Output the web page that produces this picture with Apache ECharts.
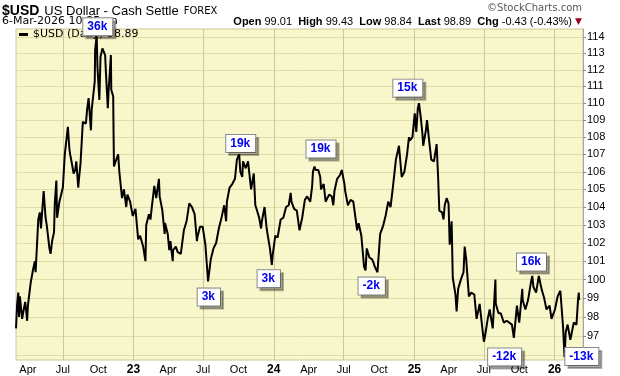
<!DOCTYPE html>
<html>
<head>
<meta charset="utf-8">
<script src="https://cdn.jsdelivr.net/npm/echarts@6/dist/echarts.min.js"></script>
<style>
  html, body { margin: 0; padding: 0; background: #fff; }
  #main { width: 620px; height: 376px; }
</style>
</head>
<body>
<div id="main"></div>
<script type="text/javascript">
    // daily closes (extra points at the swing highs/lows)
    var dates = [
        '2022-03-01','2022-03-04','2022-03-07','2022-03-09','2022-03-11','2022-03-17','2022-03-22','2022-03-25','2022-03-30',
        '2022-04-01','2022-04-08','2022-04-14','2022-04-19','2022-04-21','2022-04-28','2022-05-02','2022-05-05','2022-05-12',
        '2022-05-17','2022-05-20','2022-05-27','2022-05-30','2022-06-03','2022-06-08','2022-06-10','2022-06-14','2022-06-16',
        '2022-06-22','2022-06-24','2022-07-01','2022-07-06','2022-07-08','2022-07-14','2022-07-18','2022-07-20','2022-07-25',
        '2022-07-29','2022-08-02','2022-08-05','2022-08-10','2022-08-12','2022-08-16','2022-08-22','2022-08-26','2022-08-30',
        '2022-09-02','2022-09-06','2022-09-12','2022-09-14','2022-09-16','2022-09-22','2022-09-23','2022-09-27','2022-09-29',
        '2022-10-04','2022-10-07','2022-10-12','2022-10-14','2022-10-19','2022-10-21','2022-10-26','2022-10-28','2022-11-03',
        '2022-11-04','2022-11-09','2022-11-10','2022-11-11','2022-11-15','2022-11-17','2022-11-22','2022-11-25','2022-11-30',
        '2022-12-02','2022-12-07','2022-12-13','2022-12-16','2022-12-23','2022-12-30',
        '2023-01-06','2023-01-13','2023-01-18','2023-01-26','2023-02-01','2023-02-03','2023-02-10','2023-02-14','2023-02-17',
        '2023-02-24','2023-03-01','2023-03-08','2023-03-10','2023-03-15','2023-03-17','2023-03-23','2023-03-24','2023-03-31',
        '2023-04-04','2023-04-07','2023-04-13','2023-04-14','2023-04-21','2023-04-26','2023-05-04','2023-05-12','2023-05-19',
        '2023-05-26','2023-05-31','2023-06-02','2023-06-09','2023-06-15','2023-06-16','2023-06-23','2023-06-30','2023-07-07',
        '2023-07-14','2023-07-18','2023-07-21','2023-07-28','2023-08-04','2023-08-11','2023-08-18','2023-08-25','2023-08-30',
        '2023-09-01','2023-09-08','2023-09-15','2023-09-22','2023-09-27','2023-10-03','2023-10-06','2023-10-11','2023-10-13',
        '2023-10-20','2023-10-26','2023-11-03','2023-11-10','2023-11-14','2023-11-17','2023-11-24','2023-11-29','2023-12-01',
        '2023-12-08','2023-12-13','2023-12-15','2023-12-22','2023-12-27','2023-12-29',
        '2024-01-05','2024-01-11','2024-01-19','2024-01-26','2024-02-02','2024-02-09','2024-02-14','2024-02-16','2024-02-23',
        '2024-03-01','2024-03-08','2024-03-15','2024-03-22','2024-03-28','2024-04-05','2024-04-10','2024-04-12','2024-04-16',
        '2024-04-19','2024-04-26','2024-05-01','2024-05-03','2024-05-10','2024-05-15','2024-05-17','2024-05-24','2024-05-31',
        '2024-06-04','2024-06-07','2024-06-14','2024-06-21','2024-06-26','2024-07-03','2024-07-05','2024-07-12','2024-07-16',
        '2024-07-19','2024-07-26','2024-08-02','2024-08-05','2024-08-09','2024-08-16','2024-08-23','2024-08-27','2024-08-30',
        '2024-09-06','2024-09-13','2024-09-17','2024-09-20','2024-09-27','2024-10-04','2024-10-11','2024-10-18','2024-10-25',
        '2024-10-31','2024-11-06','2024-11-08','2024-11-14','2024-11-15','2024-11-22','2024-11-29','2024-12-06','2024-12-13',
        '2024-12-18','2024-12-20','2024-12-27',
        '2025-01-02','2025-01-06','2025-01-10','2025-01-13','2025-01-17','2025-01-22','2025-01-24','2025-01-31','2025-02-03',
        '2025-02-07','2025-02-14','2025-02-21','2025-02-28','2025-03-04','2025-03-07','2025-03-14','2025-03-18','2025-03-21',
        '2025-03-26','2025-03-31','2025-04-03','2025-04-08','2025-04-11','2025-04-18','2025-04-21','2025-04-25','2025-05-02',
        '2025-05-09','2025-05-12','2025-05-16','2025-05-23','2025-05-29','2025-06-03','2025-06-06','2025-06-12','2025-06-20',
        '2025-06-27','2025-07-01','2025-07-04','2025-07-11','2025-07-16','2025-07-18','2025-07-24','2025-07-31','2025-08-01',
        '2025-08-08','2025-08-14','2025-08-19','2025-08-22','2025-08-29','2025-09-05','2025-09-12','2025-09-17','2025-09-25',
        '2025-10-01','2025-10-09','2025-10-10','2025-10-17','2025-10-24','2025-10-31','2025-11-04','2025-11-07','2025-11-12',
        '2025-11-14','2025-11-21','2025-11-28','2025-12-05','2025-12-11','2025-12-19','2025-12-24',
        '2026-01-02','2026-01-09','2026-01-16','2026-01-23','2026-01-27','2026-01-30','2026-02-04','2026-02-06','2026-02-11',
        '2026-02-13','2026-02-20','2026-02-27','2026-03-03','2026-03-05','2026-03-06'
    ];
    var closes = [
        97.4, 98.7, 99.3, 98.0, 99.1, 97.9, 98.5, 98.8, 97.8,
        98.6, 99.8, 100.5, 101.0, 100.4, 103.3, 103.7, 102.8, 104.9,
        103.4, 103.0, 101.7, 101.4, 102.1, 102.6, 104.2, 105.5, 103.4,
        104.3, 104.2, 105.1, 107.0, 106.9, 108.6, 107.3, 107.0, 106.4,
        105.9, 106.1, 106.6, 105.1, 105.6, 106.5, 108.9, 108.8, 108.8,
        109.6, 110.3, 108.4, 109.6, 109.7, 111.3, 113.2, 114.1, 112.2,
        110.2, 112.8, 113.3, 113.3, 112.9, 111.9, 109.7, 110.7, 112.9,
        110.8, 110.4, 108.2, 106.3, 106.4, 106.7, 107.0, 106.0, 105.9,
        104.5, 105.0, 104.0, 104.7, 104.3, 103.5,
        103.9, 102.2, 102.4, 101.8, 101.0, 103.0, 103.6, 103.3, 103.9,
        105.2, 104.5, 105.6, 104.6, 104.6, 103.8, 102.5, 103.1, 102.5,
        101.6, 102.1, 101.0, 101.6, 101.8, 101.5, 101.4, 102.7, 103.2,
        104.2, 104.3, 104.0, 103.6, 102.1, 102.3, 102.9, 102.9, 101.9,
        99.9, 99.9, 101.1, 101.7, 102.0, 102.8, 103.4, 104.1, 103.2,
        104.3, 105.1, 105.3, 105.6, 106.7, 107.0, 106.0, 105.7, 106.6,
        106.2, 106.6, 105.0, 105.9, 104.1, 103.9, 103.4, 102.8, 103.2,
        104.0, 102.9, 102.6, 101.7, 100.8, 101.3,
        102.4, 102.3, 103.3, 103.4, 104.0, 104.1, 104.8, 104.3, 103.9,
        103.8, 102.7, 103.4, 104.4, 104.6, 104.3, 105.2, 106.0, 106.3,
        106.1, 106.1, 105.7, 105.0, 105.3, 104.3, 104.4, 104.7, 104.6,
        104.1, 104.9, 105.6, 105.8, 106.1, 105.3, 104.9, 104.1, 104.2,
        104.4, 104.3, 103.2, 102.7, 103.1, 102.4, 100.7, 100.5, 101.7,
        101.2, 101.1, 100.9, 100.7, 100.4, 102.5, 102.9, 103.5, 104.3,
        104.0, 105.1, 105.0, 106.7, 106.7, 107.5, 105.7, 106.0, 107.0,
        108.0, 107.8, 108.0,
        109.4, 108.3, 109.7, 110.0, 109.3, 108.2, 107.5, 108.4, 109.0,
        108.1, 106.7, 106.6, 107.6, 105.6, 103.8, 103.7, 103.3, 104.1,
        104.5, 104.2, 101.9, 103.2, 100.1, 99.2, 98.3, 99.5, 100.0,
        100.4, 101.8, 101.1, 99.1, 99.3, 99.3, 99.2, 97.9, 98.7,
        97.4, 96.7, 97.0, 97.9, 98.4, 98.5, 97.4, 100.0, 98.7,
        98.2, 98.2, 98.3, 97.7, 97.8, 97.7, 97.6, 96.9, 98.6,
        97.7, 99.5, 98.9, 98.4, 98.9, 99.8, 100.2, 99.6, 99.5,
        99.3, 100.2, 99.5, 99.0, 98.4, 98.6, 97.9,
        98.4, 99.1, 99.4, 97.5, 95.9, 97.2, 97.6, 97.6, 96.8,
        97.0, 97.7, 97.6, 98.9, 99.3, 98.9
    ];

    // axis ticks
    var quarterDates = ['2022-04-01','2022-07-01','2022-10-01','2023-01-01','2023-04-01','2023-07-01','2023-10-01',
        '2024-01-01','2024-04-01','2024-07-01','2024-10-01','2025-01-01','2025-04-01','2025-07-01','2025-10-01','2026-01-01'];
    var halfYearDates = ['2022-07-01','2023-01-01','2023-07-01','2024-01-01','2024-07-01','2025-01-01','2025-07-01','2026-01-01'];
    var priceTicks = [96, 97, 98, 99, 100, 101, 102, 103, 104, 105, 106, 107, 108, 109, 110, 111, 112, 113, 114];
    var monthNames = ['Jan','Feb','Mar','Apr','May','Jun','Jul','Aug','Sep','Oct','Nov','Dec'];

    // annotation boxes (date, level, text)
    var noteDates = ['2022-09-30','2023-07-16','2023-10-07','2023-12-19','2024-05-03','2024-09-12','2024-12-15','2025-08-24','2025-11-02','2026-03-13'];
    var noteValues = [114.45, 99.06, 107.63, 100.05, 107.31, 99.65, 110.9, 95.9, 100.95, 95.93];
    var noteTexts = ['36k','3k','19k','3k','19k','-2k','15k','-12k','16k','-13k'];

    function toTime(s) {
        var p = s.split('-');
        return new Date(+p[0], +p[1] - 1, +p[2]).getTime();
    }

    var chart = echarts.init(document.getElementById('main'));
    var option = {
        animation: false,
        backgroundColor: '#fff',
        title: [
            {
                left: 2, top: 2, padding: 0,
                text: '{a|$USD} {b|US Dollar - Cash Settle} {c|FOREX}',
                textStyle: {
                    rich: {
                        a: { fontFamily: 'Liberation Sans', fontWeight: 'bold', fontSize: 14, color: '#000' },
                        b: { fontFamily: 'Liberation Sans', fontWeight: 'normal', fontSize: 13, color: '#000' },
                        c: { fontFamily: 'DejaVu Sans', fontWeight: 'normal', fontSize: 10, color: '#000' }
                    }
                }
            },
            {
                left: 2, top: 16, padding: 0,
                text: '6-Mar-2026 10:25am',
                textStyle: { fontFamily: 'DejaVu Sans', fontSize: 11, fontWeight: 'normal', color: '#000' }
            },
            {
                right: 38, top: 16, padding: 0,
                text: '{k|Open} 99.01  {k|High} 99.43  {k|Low} 98.84  {k|Last} 98.89  {k|Chg} -0.43 (-0.43%) {t|▼}',
                textStyle: {
                    fontFamily: 'Liberation Sans', fontSize: 11, fontWeight: 'normal', color: '#000',
                    rich: {
                        k: { fontFamily: 'Liberation Sans', fontWeight: 'bold', fontSize: 11, color: '#000' },
                        t: { fontFamily: 'DejaVu Sans', fontWeight: 'normal', fontSize: 9, color: '#990022' }
                    }
                }
            },
            {
                right: 38, top: 3, padding: 0,
                text: '©StockCharts.com',
                textStyle: { fontFamily: 'DejaVu Sans', fontSize: 10, fontWeight: 'normal', color: '#555' }
            }
        ],
        legend: {
            left: 19, top: 29, padding: 0,
            icon: 'rect', itemWidth: 9, itemHeight: 3, itemGap: 4,
            textStyle: { fontFamily: 'DejaVu Sans', fontSize: 11, color: '#000' },
            data: ['$USD (Daily) 98.89']
        },
        grid: {
            left: 16, right: 37, top: 29, bottom: 16,
            show: true, backgroundColor: '#f8f6cb', borderColor: '#c9c99a', borderWidth: 1
        },
        xAxis: {
            type: 'value',
            min: toTime('2022-03-01'), max: toTime('2026-03-16'),
            axisLine: { show: false },
            axisTick: { show: false },
            splitLine: { show: false },
            axisLabel: {
                customValues: quarterDates.map(toTime),
                margin: 4, fontSize: 11, color: '#000', fontFamily: 'Liberation Sans',
                formatter: function (val) {
                    var d = new Date(val);
                    var m = d.getMonth();
                    if (m === 0) {
                        return '{y|' + String(d.getFullYear()).slice(2) + '}';
                    }
                    return monthNames[m];
                },
                rich: { y: { fontWeight: 'bold', fontSize: 12, fontFamily: 'Liberation Sans', color: '#000' } }
            }
        },
        yAxis: {
            type: 'log', logBase: 10,
            min: 95.75, max: 114.5,
            position: 'right',
            axisLine: { show: true, lineStyle: { color: '#999', type: 'dotted' } },
            axisTick: { show: true, length: 3, customValues: priceTicks, lineStyle: { color: '#888' } },
            splitLine: { show: true, lineStyle: { color: '#dfdda8', width: 1 } },
            axisLabel: {
                customValues: priceTicks,
                margin: 4, fontSize: 11, color: '#000', fontFamily: 'Liberation Sans'
            }
        },
        series: [
            {
                name: '$USD (Daily) 98.89',
                type: 'line',
                data: dates.map(function (d, i) { return [toTime(d), closes[i]]; }),
                showSymbol: false,
                lineStyle: { color: '#000', width: 2 },
                itemStyle: { color: '#000' },
                // vertical grid at Jan / Jul
                markLine: {
                    z: 1, silent: true, animation: false,
                    symbol: ['none', 'none'],
                    label: { show: false },
                    lineStyle: { color: '#c8cb97', type: 'solid', width: 1 },
                    data: halfYearDates.map(function (d) { return { xAxis: toTime(d) }; })
                },
                markPoint: {
                    z: 10,
                    symbol: 'rect',
                    symbolSize: 0,
                    label: {
                        show: true, position: 'inside', formatter: '{b}',
                        color: '#0000ee', fontWeight: 'bold', fontSize: 12, fontFamily: 'Liberation Sans',
                        backgroundColor: '#fff', borderColor: '#8a8a8a', borderWidth: 1,
                        padding: [3, 5, 2, 4],
                        shadowColor: 'rgba(0,0,0,0.3)', shadowOffsetX: 3, shadowOffsetY: 3, shadowBlur: 0
                    },
                    data: noteTexts.map(function (t, i) {
                        var item = { name: t, coord: [toTime(noteDates[i]), noteValues[i]] };
                        if (i === 0) {
                            item.label = { offset: [0, -3] };
                        }
                        return item;
                    })
                }
            }
        ]
    };
    chart.setOption(option);
</script>
</body>
</html>
